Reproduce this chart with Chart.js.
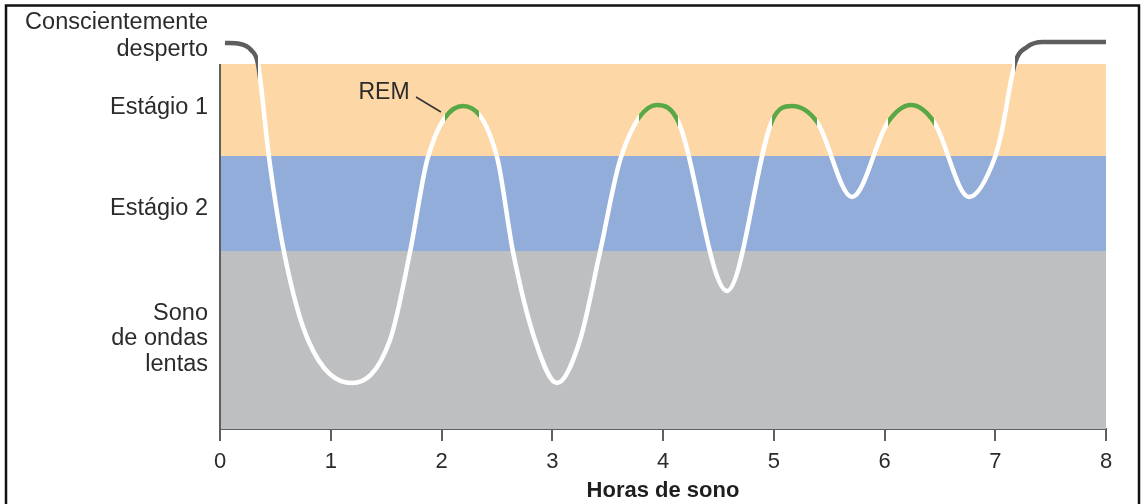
<!DOCTYPE html>
<html>
<head>
<meta charset="utf-8">
<script src="https://cdn.jsdelivr.net/npm/chart.js@4.4.1/dist/chart.umd.min.js"></script>
<style>
  html, body { margin: 0; padding: 0; background: #fff; }
  #wrap { width: 1141px; height: 504px; position: relative; }
</style>
</head>
<body>
<div id="wrap"><canvas id="sono"></canvas></div>
<script>
// horas de sono e profundidade do sono (0 = fundo do gráfico)
const hours = [0.045, 0.181, 0.280, 0.343, 0.442, 0.578, 0.795, 1.192, 1.535, 1.716, 1.878,
  2.194, 2.501, 2.646, 2.844, 3.043, 3.251, 3.431, 3.621,
  3.946, 4.135, 4.578, 4.984, 5.165, 5.391, 5.707, 6.032, 6.239, 6.447,
  6.763, 6.998, 7.061, 7.178, 7.287, 7.431, 8.0];
const depth = [3.86, 3.85, 3.79, 3.65, 2.72, 1.77, 0.89, 0.46, 0.89, 1.77, 2.72,
  3.23, 2.72, 1.77, 0.89, 0.46, 0.89, 1.77, 2.72,
  3.24, 3.08, 1.38, 3.08, 3.23, 3.07, 2.32, 3.07, 3.24, 3.07,
  2.32, 2.72, 2.99, 3.66, 3.82, 3.87, 3.87];

// períodos REM (início / fim, em horas)
const remStart = [2.032, 3.783, 4.984, 6.032];
const remEnd = [2.339, 4.135, 5.391, 6.447];

// períodos acordado (início / fim, em horas)
const wakeStart = [0, 7.178];
const wakeEnd = [0.343, 8];

// faixas dos estágios
const bandFrom = [0, 1.78, 2.73];
const bandTo = [1.78, 2.73, 3.65];
const bandColors = ['rgb(190,191,193)', 'rgb(146,173,218)', 'rgb(253,215,166)'];
const awakeLevel = 3.65;

// rótulos do eixo y
const stageTicks = [0.90, 2.20, 3.21, 3.93];
const stageLabels = [['Sono', 'de ondas', 'lentas'], 'Estágio 2', 'Estágio 1', ['Conscientemente', 'desperto']];

const textColor = '#2b2b2b';
const axisColor = '#5f5f5f';
const remColor = '#58a845';
const wakeColor = '#5e5e60';
const fontFamily = '"Liberation Sans", Arial, sans-serif';

// cor da linha por trecho de tempo
function lineGradient(chart) {
  const { ctx, chartArea, scales: { x } } = chart;
  if (!chartArea) return '#fff';
  const g = ctx.createLinearGradient(x.left, 0, x.right, 0);
  const pos = v => Math.min(1, Math.max(0, (x.getPixelForValue(v) - x.left) / (x.right - x.left)));
  const stops = [];
  wakeStart.forEach((s, i) => stops.push([s, wakeEnd[i], wakeColor]));
  remStart.forEach((s, i) => stops.push([s, remEnd[i], remColor]));
  stops.sort((a, b) => a[0] - b[0]);
  let last = 0;
  stops.forEach(([s, e, c]) => {
    if (s > last) { g.addColorStop(pos(last), '#fff'); g.addColorStop(pos(s), '#fff'); }
    g.addColorStop(pos(s), c);
    g.addColorStop(pos(e), c);
    last = e;
  });
  if (last < 8) { g.addColorStop(pos(last), '#fff'); g.addColorStop(1, '#fff'); }
  return g;
}

const bands = {
  id: 'bands',
  beforeDatasetsDraw(chart) {
    const { ctx, scales: { x, y } } = chart;
    ctx.save();
    for (let i = 0; i < bandFrom.length; i++) {
      const top = y.getPixelForValue(bandTo[i]);
      const bottom = y.getPixelForValue(bandFrom[i]);
      ctx.fillStyle = bandColors[i];
      ctx.fillRect(x.left, top, x.right - x.left, bottom - top);
    }
    // eixo vertical só ao lado das faixas
    ctx.strokeStyle = axisColor;
    ctx.lineWidth = 2;
    ctx.beginPath();
    ctx.moveTo(x.left, y.getPixelForValue(awakeLevel));
    ctx.lineTo(x.left, y.getPixelForValue(0));
    ctx.stroke();
    ctx.restore();
  }
};

const remLabel = {
  id: 'remLabel',
  afterDatasetsDraw(chart) {
    const { ctx, scales: { x, y } } = chart;
    ctx.save();
    ctx.font = '23px ' + fontFamily;
    ctx.fillStyle = textColor;
    ctx.textAlign = 'center';
    ctx.textBaseline = 'middle';
    ctx.fillText('REM', x.getPixelForValue(1.481), y.getPixelForValue(3.36));
    ctx.strokeStyle = '#333';
    ctx.lineWidth = 1.5;
    ctx.beginPath();
    ctx.moveTo(x.getPixelForValue(1.77), y.getPixelForValue(3.32));
    ctx.lineTo(x.getPixelForValue(1.995), y.getPixelForValue(3.17));
    ctx.stroke();
    ctx.restore();
  },
  afterDraw(chart) {
    // moldura
    const ctx = chart.ctx;
    ctx.save();
    ctx.strokeStyle = '#111';
    ctx.lineWidth = 2.5;
    ctx.beginPath();
    ctx.moveTo(6, 504);
    ctx.lineTo(6, 5.5);
    ctx.lineTo(1139, 5.5);
    ctx.lineTo(1139, 504);
    ctx.stroke();
    ctx.restore();
  }
};

const sono = new Chart(document.getElementById('sono'), {
  type: 'line',
  data: {
    datasets: [{
      data: hours.map((h, i) => ({ x: h, y: depth[i] })),
      borderColor: ctx => lineGradient(ctx.chart),
      borderWidth: 4.5,
      borderCapStyle: 'butt',
      borderJoinStyle: 'round',
      pointRadius: 0,
      cubicInterpolationMode: 'monotone'
    }]
  },
  options: {
    responsive: true,
    maintainAspectRatio: false,
    animation: false,
    layout: { padding: { top: 19, right: 35, left: 0, bottom: 0 } },
    plugins: { legend: { display: false }, tooltip: { enabled: false } },
    scales: {
      x: {
        type: 'linear',
        min: 0,
        max: 8,
        ticks: {
          stepSize: 1,
          padding: 8,
          color: textColor,
          font: { family: fontFamily, size: 22 }
        },
        grid: { drawOnChartArea: false, drawTicks: true, tickLength: 12, color: axisColor, lineWidth: 2 },
        border: { display: true, color: axisColor, width: 2 },
        title: {
          display: true,
          text: 'Horas de sono',
          color: '#1e1e1e',
          font: { family: fontFamily, size: 22, weight: 'bold' },
          padding: { top: 0, bottom: 0 }
        },
        afterFit: s => { s.height = 75; }
      },
      y: {
        type: 'linear',
        min: 0,
        max: 4.1,
        afterBuildTicks: s => { s.ticks = stageTicks.map(v => ({ value: v })); },
        ticks: {
          padding: 12,
          color: textColor,
          font: ctx => ({ family: fontFamily, size: 23.5, lineHeight: ctx.index === 0 ? 1.07 : 1.19 }),
          callback: (v, i) => stageLabels[i]
        },
        grid: { display: false, drawTicks: false },
        border: { display: false },
        afterFit: s => { s.width = 220; s.paddingTop = 0; s.paddingBottom = 0; }
      }
    }
  },
  plugins: [bands, remLabel]
});
</script>
</body>
</html>
